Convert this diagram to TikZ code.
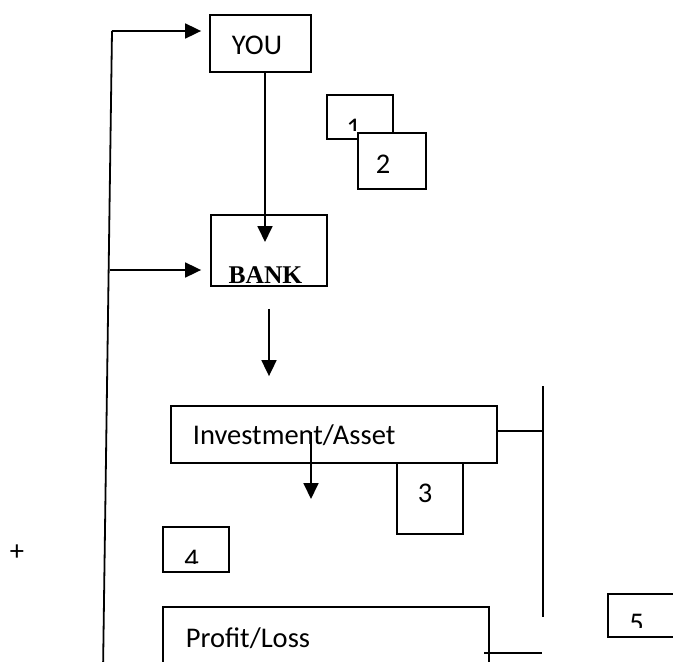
\documentclass[tikz,border=0pt]{standalone}
\usepackage{fontspec}
\setmainfont{Carlito}
\newfontfamily\timesfont{Liberation Serif}
\usetikzlibrary{arrows.meta}
\begin{document}
\begin{tikzpicture}[x=1pt,y=-1pt,line width=1.8pt,
  box/.style={draw,fill=white,inner sep=0pt},
  lbl/.style={inner sep=0pt,font=\fontsize{28.5}{34}\selectfont},
  arr/.style={-{Triangle[length=16pt,width=15pt]}}]
\clip (0,0) rectangle (673,662);
\fill[white] (0,0) rectangle (673,662);
% boxes
\node[box,minimum width=101pt,minimum height=57pt] (you) at (260.5,43.5) {};
\node[lbl,anchor=base] (youtxt) at (257,54) {YOU};
\node[box,minimum width=66pt,minimum height=44pt] (b1) at (360,117) {};
\begin{scope}
\clip (327,95) rectangle (393,130);
\node[lbl,anchor=base] (t1) at (353.5,137) {1};
\end{scope}
\node[box,minimum width=68pt,minimum height=56pt] (b2) at (392,161) {};
\node[lbl,anchor=base] (t2) at (383,173) {2};
\node[box,minimum width=116pt,minimum height=71pt] (bank) at (269,250.5) {};
\node[inner sep=0pt,anchor=base,font=\timesfont\bfseries\fontsize{25.5}{30}\selectfont] (banktxt) at (265.5,283) {BANK};
\node[box,minimum width=326pt,minimum height=57pt] (inv) at (334,434.5) {};
\node[lbl,anchor=base west] (invtxt) at (192,444) {Investment/Asset};
\node[box,minimum width=66pt,minimum height=71pt] (b3) at (430,498.5) {};
\node[lbl,anchor=base] (t3) at (425,502) {3};
\node[box,minimum width=66pt,minimum height=45pt] (b4) at (196,549.5) {};
\begin{scope}
\clip (163,527) rectangle (229,563);
\node[lbl,anchor=base] (t4) at (191.5,568) {4};
\end{scope}
\node[box,minimum width=92pt,minimum height=43pt] (b5) at (654,615.5) {};
\begin{scope}
\clip (608,594) rectangle (673,627);
\node[lbl,anchor=base] (t5) at (636.5,632) {5};
\end{scope}
\node[box,minimum width=326pt,minimum height=93pt] (profit) at (326,653.5) {};
\node[lbl,anchor=base west] (proftxt) at (185,647) {Profit/Loss};
\node[lbl,anchor=base] (plus) at (17,560) {+};
% connectors
\coordinate (lt) at (112,31);
\coordinate (lm) at (110,270);
\coordinate (lb) at (103,672);
\draw (lb) -- (lt);
\draw[arr,shorten >=8pt] (lt) -- (you.west |- lt);
\draw[arr,shorten >=9pt] (lm) -- (bank.west |- lm);
\coordinate (bankin) at (265,242);
\draw[arr] (you.south -| bankin) -- (bankin);
\draw[arr,shorten <=22pt,shorten >=29pt] (bank.south) -- (bank.south |- inv.north);
\coordinate (ia) at (311,432);
\coordinate (ib) at (311,499);
\draw[arr] (ia) -- (ib);
\coordinate (rtop) at (543,386);
\coordinate (rbot) at (543,617);
\coordinate (rmid) at (543,431);
\draw (rtop) -- (rbot);
\draw (inv.east |- rmid) -- (rmid);
\coordinate (pl) at (484,653);
\coordinate (pr) at (542,653);
\draw (pl) -- (pr);
\end{tikzpicture}
\end{document}
